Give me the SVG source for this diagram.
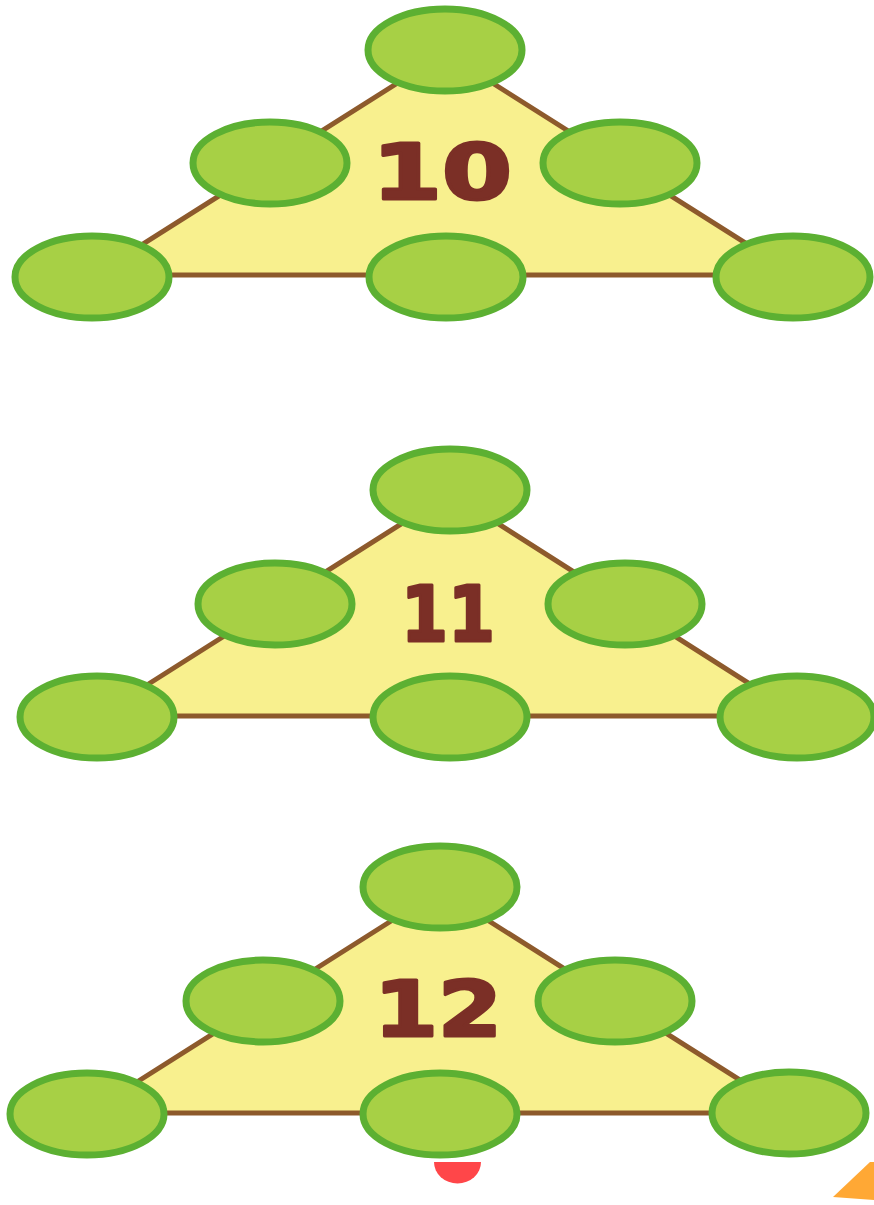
<svg xmlns="http://www.w3.org/2000/svg" width="874" height="1205" viewBox="0 0 874 1205">
<style>
.tri{fill:#f8f08e;stroke:#8d5a2c;stroke-width:5;stroke-linejoin:round}
.nd{fill:#a7d045;stroke:#5cb032;stroke-width:7}
.num{font-family:"DejaVu Sans",sans-serif;font-weight:bold;font-size:76px;fill:#7b2f26;stroke:#7b2f26;stroke-width:3;stroke-linejoin:round;text-anchor:middle}
</style>
<rect width="874" height="1205" fill="#ffffff"/>
<g id="connectors">
<polygon class="tri" points="445,53 94,275 796,275"/>
<polygon class="tri" points="450,493 98,716 800,716"/>
<polygon class="tri" points="440,890 88,1113 792,1113"/>
</g>
<g id="label10"><text class="num" x="442" y="199" textLength="140" lengthAdjust="spacingAndGlyphs">10</text></g>
<g id="label11"><text class="num" x="448" y="641" textLength="94" lengthAdjust="spacingAndGlyphs">11</text></g>
<g id="label12"><text class="num" x="438" y="1036" textLength="128" lengthAdjust="spacingAndGlyphs">12</text></g>
<g id="t1-top"><ellipse class="nd" cx="445" cy="50" rx="77" ry="41"/></g>
<g id="t1-ml"><ellipse class="nd" cx="270" cy="163" rx="77" ry="41"/></g>
<g id="t1-mr"><ellipse class="nd" cx="620" cy="163" rx="77" ry="41"/></g>
<g id="t1-bl"><ellipse class="nd" cx="92" cy="277" rx="77" ry="41"/></g>
<g id="t1-bm"><ellipse class="nd" cx="446" cy="277" rx="77" ry="41"/></g>
<g id="t1-br"><ellipse class="nd" cx="793" cy="277" rx="77" ry="41"/></g>
<g id="t2-top"><ellipse class="nd" cx="450" cy="490" rx="77" ry="41"/></g>
<g id="t2-ml"><ellipse class="nd" cx="275" cy="604" rx="77" ry="41"/></g>
<g id="t2-mr"><ellipse class="nd" cx="625" cy="604" rx="77" ry="41"/></g>
<g id="t2-bl"><ellipse class="nd" cx="97" cy="717" rx="77" ry="41"/></g>
<g id="t2-bm"><ellipse class="nd" cx="450" cy="717" rx="77" ry="41"/></g>
<g id="t2-br"><ellipse class="nd" cx="797" cy="717" rx="77" ry="41"/></g>
<g id="t3-top"><ellipse class="nd" cx="440" cy="887" rx="77" ry="41"/></g>
<g id="t3-ml"><ellipse class="nd" cx="263" cy="1001" rx="77" ry="41"/></g>
<g id="t3-mr"><ellipse class="nd" cx="615" cy="1001" rx="77" ry="41"/></g>
<g id="t3-bl"><ellipse class="nd" cx="87" cy="1114" rx="77" ry="41"/></g>
<g id="t3-bm"><ellipse class="nd" cx="440" cy="1114" rx="77" ry="41"/></g>
<g id="t3-br"><ellipse class="nd" cx="789" cy="1113" rx="77" ry="41"/></g>
<path d="M434,1162 A23,21 0 0 0 481,1162 Z" fill="#ff4649"/>
<polygon points="870,1162 833,1197 874,1200 874,1162" fill="#ffa835"/>
</svg>
